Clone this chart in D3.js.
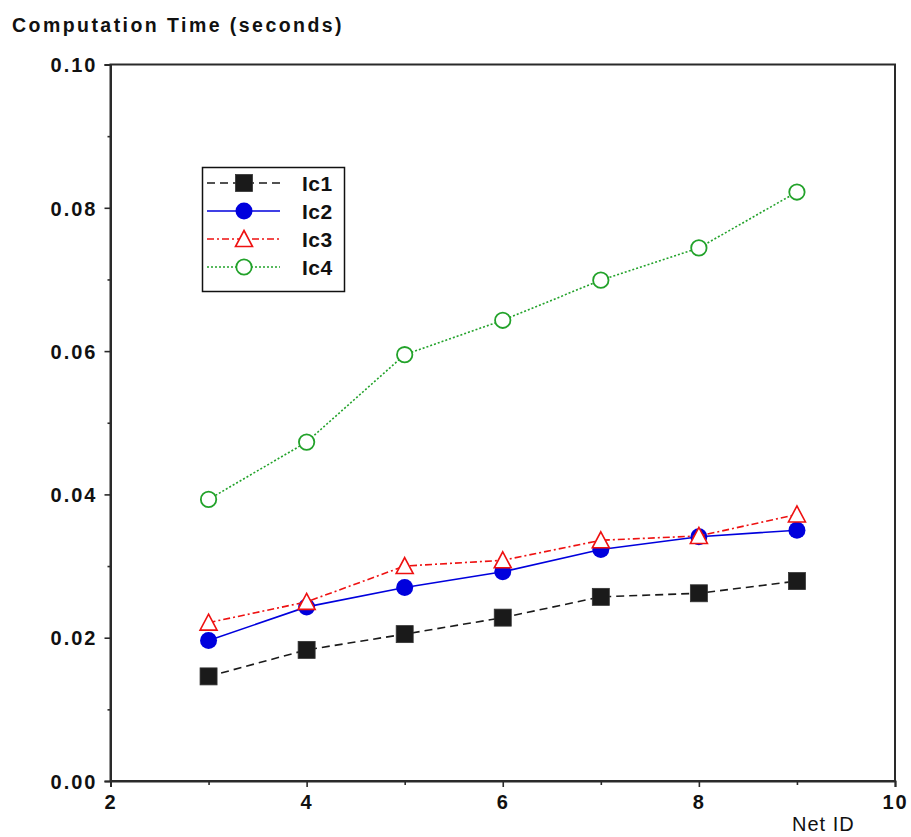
<!DOCTYPE html>
<html>
<head>
<meta charset="utf-8">
<script src="https://cdn.jsdelivr.net/npm/d3@7"></script>
<style>
  html, body { margin: 0; padding: 0; background: #fff; }
  svg { display: block; }
  text { font-family: "Liberation Sans", Arial, sans-serif; fill: #111; }
</style>
</head>
<body>
<svg id="chart" width="911" height="837"></svg>
<script>
// Net IDs along the x axis
const netIds = [3, 4, 5, 6, 7, 8, 9];

// Computation time (seconds) per series
const ic1 = [0.0146, 0.0183, 0.0205, 0.0228, 0.0257, 0.0262, 0.0279];
const ic2 = [0.0196, 0.0243, 0.0270, 0.0292, 0.0323, 0.0341, 0.0350];
const ic3 = [0.0221, 0.0250, 0.0300, 0.0308, 0.0336, 0.0342, 0.0372];
const ic4 = [0.0393, 0.0473, 0.0595, 0.0643, 0.0699, 0.0744, 0.0822];

const seriesNames = ["Ic1", "Ic2", "Ic3", "Ic4"];

// Axis ticks
const xTicks = [2, 4, 6, 8, 10];
const xMinorTicks = [3, 5, 7, 9];
const yTicks = [0, 0.02, 0.04, 0.06, 0.08, 0.10];
const yMinorTicks = [0.01, 0.03, 0.05, 0.07, 0.09];

const styles = [
  { color: "#1a1a1a", dash: "8,5", marker: "square" },
  { color: "#0000dd", dash: null, marker: "dot" },
  { color: "#ee1111", dash: "7,3,2,3", marker: "triangle" },
  { color: "#22a22a", dash: "2,2", marker: "ring" }
];
const seriesValues = [ic1, ic2, ic3, ic4];

const margin = { left: 110.5, right: 16, top: 64.5, bottom: 56 };
const W = 911, H = 837;
const svg = d3.select("#chart");

const x = d3.scaleLinear().domain([2, 10]).range([margin.left, W - margin.right]);
const y = d3.scaleLinear().domain([0, 0.10]).range([H - margin.bottom, margin.top]);

const axisColor = "#2a2a2a";

// Frame: top and right sides
svg.append("rect")
  .attr("x", x(2)).attr("y", y(0.10))
  .attr("width", x(10) - x(2)).attr("height", y(0) - y(0.10))
  .attr("fill", "none").attr("stroke", axisColor).attr("stroke-width", 2);

// X axis
const xAxis = svg.append("g").attr("transform", `translate(0,${y(0)})`)
  .call(d3.axisBottom(x).tickValues(xTicks).tickSize(6).tickPadding(8).tickFormat(d3.format("d")));
svg.append("g").attr("transform", `translate(0,${y(0)})`)
  .call(d3.axisBottom(x).tickValues(xMinorTicks).tickSize(4).tickFormat(""))
  .call(g => g.select(".domain").remove());

// Y axis
const yAxis = svg.append("g").attr("transform", `translate(${x(2)},0)`)
  .call(d3.axisLeft(y).tickValues(yTicks).tickSize(6).tickPadding(7).tickFormat(d3.format(".2f")));
svg.append("g").attr("transform", `translate(${x(2)},0)`)
  .call(d3.axisLeft(y).tickValues(yMinorTicks).tickSize(3).tickFormat(""))
  .call(g => g.select(".domain").remove());

svg.selectAll(".domain").attr("stroke", axisColor).attr("stroke-width", 2);
svg.selectAll(".tick line").attr("stroke", axisColor).attr("stroke-width", 1.6);
svg.selectAll(".tick text")
  .style("font-family", "'Liberation Sans', Arial, sans-serif")
  .style("font-size", "20px").style("font-weight", "bold")
  .style("letter-spacing", "2px").attr("fill", "#111");
yAxis.selectAll(".tick text").attr("dy", "0.36em");
xAxis.selectAll(".tick text").attr("dy", "0.72em");

// Titles
svg.append("text").attr("x", 12).attr("y", 32)
  .style("font-size", "19.5px").style("font-weight", "bold").style("letter-spacing", "2.45px")
  .attr("fill", "#1a1a1a")
  .text("Computation Time (seconds)");
svg.append("text").attr("x", 792).attr("y", 831)
  .style("font-size", "20px").style("letter-spacing", "1px")
  .text("Net ID");

// Marker drawing
function drawMarker(sel, type, color, size) {
  const r = size / 2;
  if (type === "square") {
    sel.append("rect").attr("x", -r).attr("y", -r).attr("width", size).attr("height", size)
      .attr("fill", color).attr("stroke", "#333").attr("stroke-width", 0.8);
  } else if (type === "dot") {
    sel.append("circle").attr("r", r).attr("fill", color);
  } else if (type === "triangle") {
    sel.append("path")
      .attr("d", `M0,${-r}L${r},${r - 1}L${-r},${r - 1}Z`)
      .attr("fill", "#fff").attr("stroke", color).attr("stroke-width", 1.6);
  } else if (type === "ring") {
    sel.append("circle").attr("r", r - 0.8).attr("fill", "#fff")
      .attr("stroke", color).attr("stroke-width", 1.8);
  }
}

const line = d3.line().x(d => x(d[0])).y(d => y(d[1]));

seriesValues.forEach((vals, i) => {
  const st = styles[i];
  const pts = netIds.map((n, j) => [n, vals[j]]);
  const g = svg.append("g");
  g.append("path").datum(pts).attr("d", line)
    .attr("fill", "none").attr("stroke", st.color).attr("stroke-width", 1.6)
    .attr("stroke-dasharray", st.dash);
  g.selectAll("g.mk").data(pts).join("g").attr("class", "mk")
    .attr("transform", d => `translate(${x(d[0])},${y(d[1])})`)
    .each(function () { drawMarker(d3.select(this), st.marker, st.color, 17); });
});

// Legend
const lg = svg.append("g");
lg.append("rect").attr("x", 202.5).attr("y", 167.5).attr("width", 142).attr("height", 124)
  .attr("fill", "#fff").attr("stroke", "#111").attr("stroke-width", 1.5);
const rowY = [183, 211, 239, 267];
seriesNames.forEach((name, i) => {
  const st = styles[i];
  const row = lg.append("g");
  row.append("line").attr("x1", 207).attr("x2", 280).attr("y1", rowY[i]).attr("y2", rowY[i])
    .attr("stroke", st.color).attr("stroke-width", 1.6).attr("stroke-dasharray", st.dash);
  const m = row.append("g").attr("transform", `translate(244,${rowY[i]})`);
  drawMarker(m, st.marker, st.color, 17);
  row.append("text").attr("x", 302).attr("y", rowY[i] + 8)
    .style("font-size", "21px").style("font-weight", "bold").style("letter-spacing", "0.5px")
    .text(name);
});
</script>
</body>
</html>
